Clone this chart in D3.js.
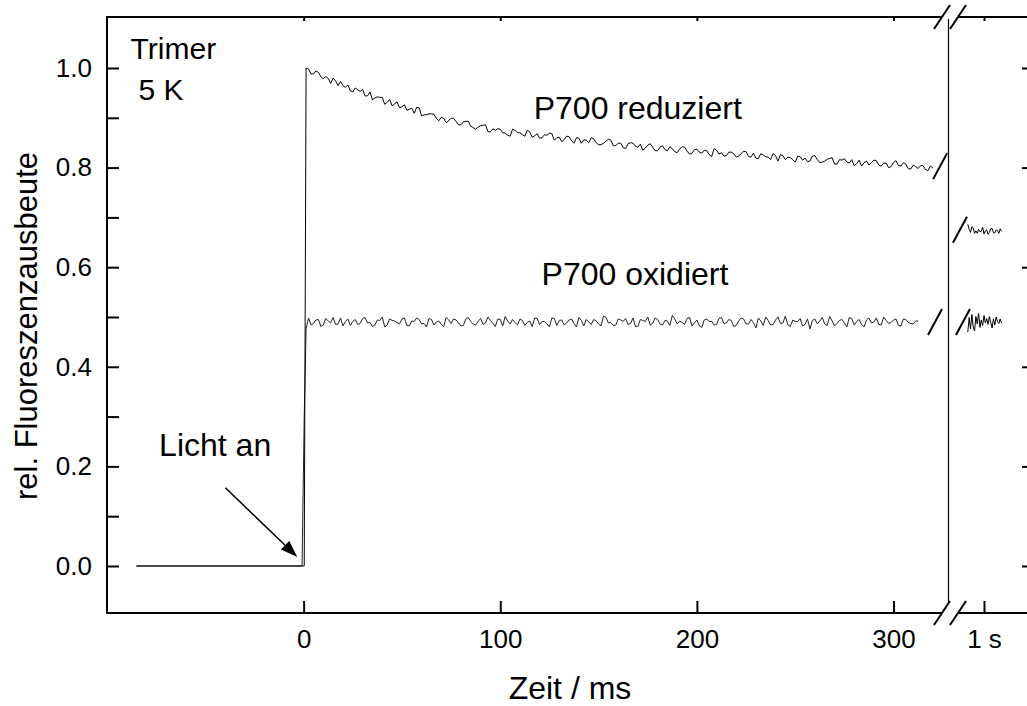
<!DOCTYPE html>
<html><head><meta charset="utf-8">
<script src="https://cdn.jsdelivr.net/npm/d3@7"></script>
<style>
body{margin:0;background:#fff}
svg{display:block;background:#fff}
text{font-family:"Liberation Sans",Arial,Helvetica,sans-serif;fill:#000}
</style>
</head><body>
<svg id="chart" width="1027" height="706"></svg>
<script>
// ---------- data ----------
const xTickValues = [0, 100, 200, 300];
const xTickLabels = ["0", "100", "200", "300"];
const secTickValues = [1];
const secTickLabels = ["1 s"];
const yTickValues = [0.0, 0.1, 0.2, 0.3, 0.4, 0.5, 0.6, 0.7, 0.8, 0.9, 1.0];
const yMajorTicks = [0.0, 0.2, 0.4, 0.6, 0.8, 1.0];

// sampling interval (ms) of the traces after the light is switched on
const sampleStep = 1.25;

// P700 reduziert: lead-in (dark baseline), then one sample every 1.25 ms (t = 1.25 ... 320 ms)
const redLeadT = [-85, 0.3];
const redLeadV = [0, 0];
const redValues = [
1.000,0.998,0.988,0.988,0.994,0.991,0.983,0.978,0.983,0.979,0.969,0.980,0.974,0.965,0.973,0.965,
0.961,0.966,0.954,0.952,0.960,0.956,0.953,0.957,0.944,0.944,0.952,0.936,0.940,0.942,0.941,0.941,
0.927,0.931,0.937,0.924,0.928,0.932,0.920,0.922,0.926,0.915,0.917,0.919,0.909,0.921,0.920,0.904,
0.906,0.906,0.908,0.908,0.907,0.899,0.894,0.901,0.899,0.890,0.894,0.899,0.899,0.893,0.886,0.886,
0.892,0.893,0.893,0.883,0.880,0.877,0.881,0.884,0.885,0.886,0.872,0.872,0.878,0.875,0.878,0.877,
0.870,0.869,0.865,0.863,0.877,0.875,0.870,0.870,0.866,0.863,0.875,0.872,0.861,0.864,0.868,0.859,
0.860,0.866,0.865,0.869,0.868,0.855,0.860,0.861,0.852,0.856,0.863,0.862,0.854,0.849,0.860,0.859,
0.849,0.856,0.855,0.850,0.860,0.858,0.850,0.846,0.846,0.849,0.853,0.857,0.855,0.844,0.844,0.849,
0.849,0.840,0.838,0.848,0.850,0.849,0.843,0.841,0.847,0.835,0.839,0.845,0.848,0.841,0.834,0.834,
0.841,0.844,0.836,0.834,0.842,0.838,0.832,0.830,0.837,0.842,0.841,0.833,0.827,0.829,0.836,0.837,
0.831,0.829,0.835,0.834,0.826,0.822,0.838,0.835,0.827,0.830,0.823,0.824,0.831,0.831,0.828,0.821,
0.823,0.828,0.833,0.832,0.822,0.821,0.829,0.819,0.818,0.828,0.825,0.822,0.821,0.816,0.828,0.824,
0.813,0.826,0.824,0.816,0.821,0.820,0.816,0.811,0.823,0.822,0.815,0.819,0.812,0.813,0.823,0.824,
0.816,0.810,0.811,0.813,0.817,0.818,0.820,0.807,0.807,0.816,0.815,0.818,0.811,0.809,0.816,0.804,
0.808,0.815,0.803,0.810,0.813,0.805,0.810,0.815,0.814,0.805,0.803,0.809,0.809,0.800,0.802,0.810,
0.814,0.804,0.803,0.810,0.807,0.798,0.797,0.805,0.802,0.798,0.804,0.804,0.796,0.794,0.803,0.799
];

// P700 oxidiert: lead-in, then one sample every 1.25 ms (t = 1.25 ... 312.5 ms)
const oxLeadT = [-85, -0.8, 0.3];
const oxLeadV = [0, 0, 0.30];
const oxValues = [
0.476,0.498,0.484,0.487,0.494,0.495,0.481,0.484,0.497,0.492,0.488,0.499,0.485,0.486,0.498,0.482,
0.491,0.496,0.483,0.491,0.495,0.485,0.487,0.497,0.499,0.488,0.489,0.481,0.484,0.494,0.493,0.500,
0.480,0.484,0.496,0.493,0.492,0.489,0.486,0.496,0.498,0.483,0.482,0.492,0.491,0.498,0.495,0.486,
0.487,0.480,0.497,0.495,0.484,0.490,0.492,0.485,0.481,0.499,0.494,0.487,0.496,0.494,0.488,0.482,
0.483,0.496,0.499,0.491,0.486,0.484,0.491,0.497,0.485,0.488,0.500,0.493,0.487,0.481,0.496,0.495,
0.482,0.501,0.492,0.486,0.495,0.489,0.484,0.496,0.493,0.483,0.489,0.492,0.481,0.498,0.497,0.485,
0.491,0.491,0.486,0.480,0.498,0.497,0.483,0.493,0.494,0.484,0.488,0.494,0.496,0.487,0.480,0.499,
0.493,0.482,0.495,0.490,0.485,0.495,0.492,0.486,0.482,0.502,0.499,0.488,0.489,0.483,0.484,0.496,
0.494,0.491,0.497,0.485,0.487,0.498,0.481,0.481,0.495,0.493,0.491,0.500,0.484,0.487,0.498,0.495,
0.486,0.484,0.493,0.492,0.483,0.503,0.496,0.486,0.492,0.489,0.485,0.497,0.499,0.482,0.488,0.494,
0.482,0.479,0.494,0.496,0.491,0.491,0.484,0.485,0.497,0.499,0.487,0.488,0.495,0.493,0.481,0.483,
0.492,0.498,0.496,0.486,0.486,0.495,0.489,0.478,0.498,0.492,0.483,0.500,0.493,0.484,0.485,0.494,
0.500,0.487,0.488,0.502,0.484,0.481,0.494,0.491,0.491,0.497,0.482,0.485,0.496,0.476,0.493,0.496,
0.486,0.492,0.499,0.486,0.483,0.501,0.492,0.482,0.487,0.493,0.495,0.488,0.480,0.499,0.497,0.484,
0.491,0.495,0.485,0.480,0.494,0.498,0.488,0.490,0.498,0.485,0.484,0.500,0.493,0.487,0.489,0.494,
0.496,0.483,0.482,0.496,0.495,0.489,0.487,0.486,0.492,0.492
];

// segment after the axis break, around 1 s (time in seconds)
const secStart = 0.94;
const secStep = 0.005;
const redSecValues = [0.686,0.676,0.670,0.681,0.679,0.668,0.673,0.668,0.676,0.671,0.672,0.680,0.667,
                      0.673,0.675,0.666,0.670,0.677,0.678,0.669,0.669,0.675,0.674,0.668,0.677,0.672];
const oxSecValues  = [0.470,0.499,0.476,0.505,0.480,0.472,0.501,0.486,0.507,0.479,0.494,0.483,0.503,
                      0.488,0.497,0.485,0.501,0.489,0.478,0.496,0.484,0.500,0.491,0.487,0.496,0.488];

// ---------- layout ----------
const svg = d3.select("#chart");
const W = 1027, H = 706;
const L = 107, T = 17, B = 613, R = 1034;
const breakX = 948;

const x = d3.scaleLinear().domain([-100, 327.7]).range([L, breakX]);
const xs = d3.scaleLinear().domain([0.9, 1.1]).range([957, 1011]);
const y = d3.scaleLinear().domain([-0.0944, 1.1024]).range([B, T]);

svg.append("rect").attr("width", W).attr("height", H).attr("fill", "#fff");

const redMain = redLeadT.map((t, i) => [t, redLeadV[i]])
  .concat(redValues.map((v, i) => [sampleStep * (i + 1), v]));
const oxMain = oxLeadT.map((t, i) => [t, oxLeadV[i]])
  .concat(oxValues.map((v, i) => [sampleStep * (i + 1), v]));
const redSec = redSecValues.map((v, i) => [secStart + secStep * i, v]);
const oxSec = oxSecValues.map((v, i) => [secStart + secStep * i, v]);

const lineMain = d3.line().x(d => x(d[0])).y(d => y(d[1]));
const lineSec = d3.line().x(d => xs(d[0])).y(d => y(d[1]));

const dataG = svg.append("g").attr("fill", "none").attr("stroke", "#000").attr("stroke-width", 1);
dataG.append("path").attr("d", lineMain(oxMain)).attr("stroke", "#222");
dataG.append("path").attr("d", lineMain(redMain));
dataG.append("path").attr("d", lineSec(redSec));
dataG.append("path").attr("d", lineSec(oxSec));

// break marks on the traces
const traceBreaks = [
  {sx: x(323.7), v: 0.803},
  {sx: x(321.1), v: 0.49},
  {sx: xs(0.911), v: 0.675},
  {sx: xs(0.922), v: 0.49}
];
svg.append("g").selectAll("line").data(traceBreaks).join("line")
  .attr("x1", d => d.sx - 7).attr("y1", d => y(d.v) + 13)
  .attr("x2", d => d.sx + 7).attr("y2", d => y(d.v) - 13)
  .attr("stroke", "#000").attr("stroke-width", 2);

// separator line at the break
svg.append("line").attr("x1", breakX + 0.5).attr("x2", breakX + 0.5)
  .attr("y1", T + 2).attr("y2", B - 10).attr("stroke", "#000").attr("stroke-width", 1.2);

// ---------- axes ----------
const fmt = d3.format(".1f");
const leftAxis = d3.axisLeft(y).tickValues(yTickValues)
  .tickFormat(d => yMajorTicks.some(m => Math.abs(m - d) < 1e-9) ? fmt(d) : "")
  .tickSizeInner(-12).tickSizeOuter(0).tickPadding(15);
const gl = svg.append("g").attr("transform", `translate(${L},0)`).call(leftAxis);

const bottomAxis = d3.axisBottom(x).tickValues(xTickValues)
  .tickFormat((d, i) => xTickLabels[i]).tickSizeInner(-12).tickSizeOuter(0).tickPadding(17);
const gb = svg.append("g").attr("transform", `translate(0,${B})`).call(bottomAxis);

const bottomSec = d3.axisBottom(xs).tickValues(secTickValues)
  .tickFormat((d, i) => secTickLabels[i]).tickSizeInner(-12).tickSizeOuter(0).tickPadding(17);
const gb2 = svg.append("g").attr("transform", `translate(0,${B})`).call(bottomSec);

const topAxis = d3.axisTop(x).tickValues(xTickValues).tickFormat("").tickSizeInner(-4).tickSizeOuter(0);
const gt = svg.append("g").attr("transform", `translate(0,${T})`).call(topAxis);
const topSec = d3.axisTop(xs).tickValues(secTickValues).tickFormat("").tickSizeInner(-4).tickSizeOuter(0);
const gt2 = svg.append("g").attr("transform", `translate(0,${T})`).call(topSec);

const rightAxis = d3.axisRight(y).tickValues(yMajorTicks).tickFormat("").tickSizeInner(-12).tickSizeOuter(0);
const gr = svg.append("g").attr("transform", `translate(${R},0)`).call(rightAxis);

[gl, gb, gb2, gt, gt2, gr].forEach(g => {
  g.select(".domain").remove();
  g.selectAll(".tick line").attr("stroke", "#000").attr("stroke-width", 2);
  g.selectAll(".tick text").attr("font-size", 26).attr("font-family", "'Liberation Sans', Arial, sans-serif").attr("fill", "#000");
});

// axis lines with breaks
const axisG = svg.append("g").attr("stroke", "#000").attr("stroke-width", 2).attr("fill", "none");
axisG.append("line").attr("x1", L).attr("x2", L).attr("y1", T - 1).attr("y2", B + 1);
[T, B].forEach(yy => {
  axisG.append("line").attr("x1", L).attr("x2", 942).attr("y1", yy).attr("y2", yy);
  axisG.append("line").attr("x1", 958).attr("x2", W).attr("y1", yy).attr("y2", yy);
  [942, 958].forEach(cx => {
    axisG.append("line").attr("x1", cx - 8).attr("y1", yy + 12).attr("x2", cx + 8).attr("y2", yy - 12);
  });
});

// ---------- labels ----------
svg.append("text").attr("x", 570).attr("y", 699).attr("text-anchor", "middle")
  .attr("font-size", 32).text("Zeit / ms");
svg.append("text").attr("transform", "translate(37,326) rotate(-90)").attr("text-anchor", "middle")
  .attr("font-size", 31).text("rel. Fluoreszenzausbeute");

const ann = svg.append("g").attr("font-size", 32);
ann.append("text").attr("x", x(-88)).attr("y", y(1.018)).attr("font-size", 30).text("Trimer");
ann.append("text").attr("x", x(-84)).attr("y", y(0.935)).attr("font-size", 30).text("5 K");
ann.append("text").attr("x", x(117)).attr("y", y(0.898)).text("P700 reduziert");
ann.append("text").attr("x", x(121)).attr("y", y(0.564)).text("P700 oxidiert");
ann.append("text").attr("x", x(-73.5)).attr("y", y(0.22)).text("Licht an");

// arrow
const arrowFrom = [-39.8, 0.157], arrowTo = [-3.2, 0.018];
const ax1 = x(arrowFrom[0]), ay1 = y(arrowFrom[1]), ax2 = x(arrowTo[0]), ay2 = y(arrowTo[1]);
const ang = Math.atan2(ay2 - ay1, ax2 - ax1);
const hl = 17, hw = 6;
const bx = ax2 - hl * Math.cos(ang), by = ay2 - hl * Math.sin(ang);
svg.append("line").attr("x1", ax1).attr("y1", ay1).attr("x2", bx).attr("y2", by)
  .attr("stroke", "#000").attr("stroke-width", 1.5);
svg.append("path")
  .attr("d", `M${ax2},${ay2}L${bx + hw * Math.sin(ang)},${by - hw * Math.cos(ang)}L${bx - hw * Math.sin(ang)},${by + hw * Math.cos(ang)}Z`)
  .attr("fill", "#000");
</script>
</body></html>
